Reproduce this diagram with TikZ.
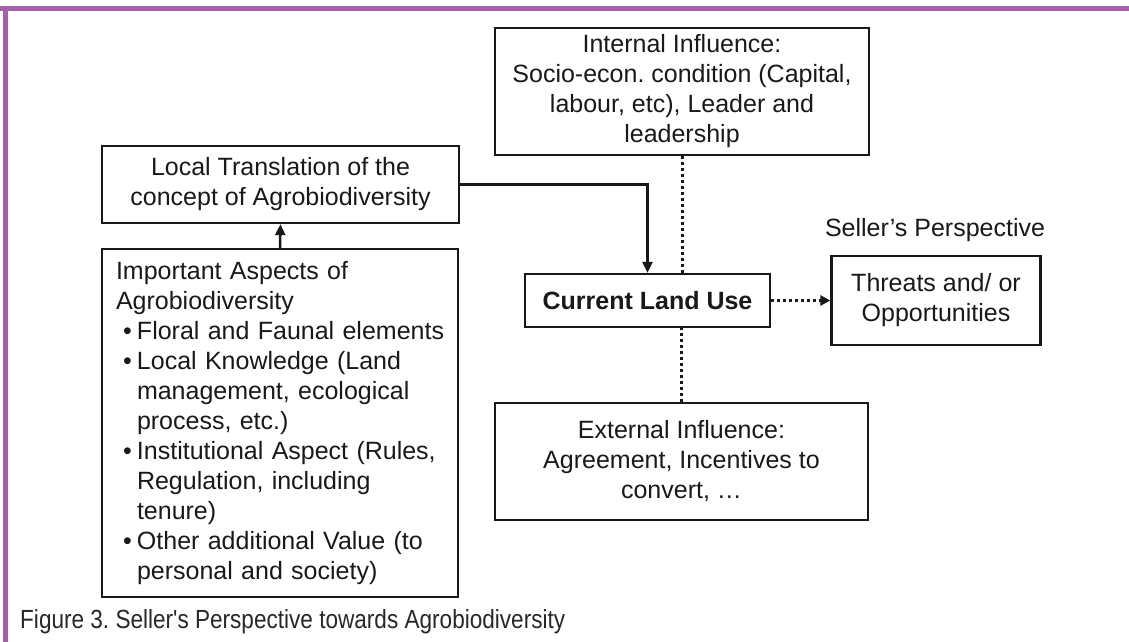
\documentclass[tikz,border=0pt]{standalone}
\usepackage{fontspec}
\setmainfont{Liberation Sans}
\usetikzlibrary{arrows.meta}
\definecolor{framepurple}{RGB}{166,96,168}
\definecolor{ink}{RGB}{25,25,25}
\definecolor{captiongray}{RGB}{40,40,40}
\tikzset{
  box/.style={draw=ink, line width=2.3pt, fill=white, inner sep=0pt, align=center,
    font=\fontsize{25}{30}\selectfont, text=ink},
  conn/.style={line width=2.5pt, draw=ink, -{Triangle[length=11pt,width=10pt]}},
  dotline/.style={line width=3pt, draw=ink, dash pattern=on 3pt off 3pt},
  plain/.style={inner sep=0pt, text=ink, font=\fontsize{25}{30}\selectfont}
}
\newcommand{\bul}[1]{\mbox{\makebox[21pt][r]{\textbullet\hspace{5pt}}#1}}
\newcommand{\cont}[1]{\mbox{\hspace*{21pt}#1}}
\frenchspacing
\begin{document}
\begin{tikzpicture}[x=1pt,y=-1pt]
\useasboundingbox (0,0) rectangle (1129,642);
\fill[white] (0,0) rectangle (1129,642);
% frame
\fill[framepurple] (0,6) rectangle (1129,11);
\fill[framepurple] (3,6) rectangle (8,642);

% nodes
\node[box, minimum width=374pt, minimum height=127pt] (internal) at (682,91.5)
  {Internal Influence:\\Socio-econ. condition (Capital,\\labour, etc), Leader and\\leadership};
\node[box, minimum width=357pt, minimum height=77pt] (local) at (280.5,184.5)
  {Local Translation of the\\concept of Agrobiodiversity};
\node[box, minimum width=356pt, minimum height=348pt, text width=328pt, align=left] (important) at (280,423)
  {\mbox{Important Aspects of}\\\mbox{Agrobiodiversity}\\
   \bul{Floral and Faunal elements}\\
   \bul{Local Knowledge (Land}\\
   \cont{management, ecological}\\
   \cont{process, etc.)}\\
   \bul{Institutional Aspect (Rules,}\\
   \cont{Regulation, including}\\
   \cont{tenure)}\\
   \bul{Other additional Value (to}\\
   \cont{personal and society)}};
\node[box, minimum width=245pt, minimum height=53pt, font=\fontsize{25}{30}\selectfont\bfseries] (current) at (647.5,300.5)
  {Current Land Use};
\node[box, minimum width=209pt, minimum height=89pt] (threats) at (936,300.5)
  {Threats and/ or\\Opportunities};
\node[plain] (seller) at (935,230) {Seller’s Perspective};
\node[box, minimum width=373pt, minimum height=117pt] (external) at (681.5,461.5)
  {External Influence:\\Agreement, Incentives to\\convert, …};

\node[anchor=base west, inner sep=0pt, text=captiongray] (caption) at (20,628)
  {\resizebox{545pt}{19pt}{\fontsize{25}{25}\selectfont Figure 3. Seller\textquotesingle s Perspective towards Agrobiodiversity}};

% connectors
\draw[conn] (important.north) -- (local.south);
\draw[conn] (local.east) -| (current.north);
\draw[dotline] (internal.south) -- (internal.south |- current.north);
\draw[dotline] (external.north) -- (external.north |- current.south);
\draw[dotline, -{Triangle[length=10pt,width=10pt]}] (current.east) -- (threats.west);
\end{tikzpicture}
\end{document}
